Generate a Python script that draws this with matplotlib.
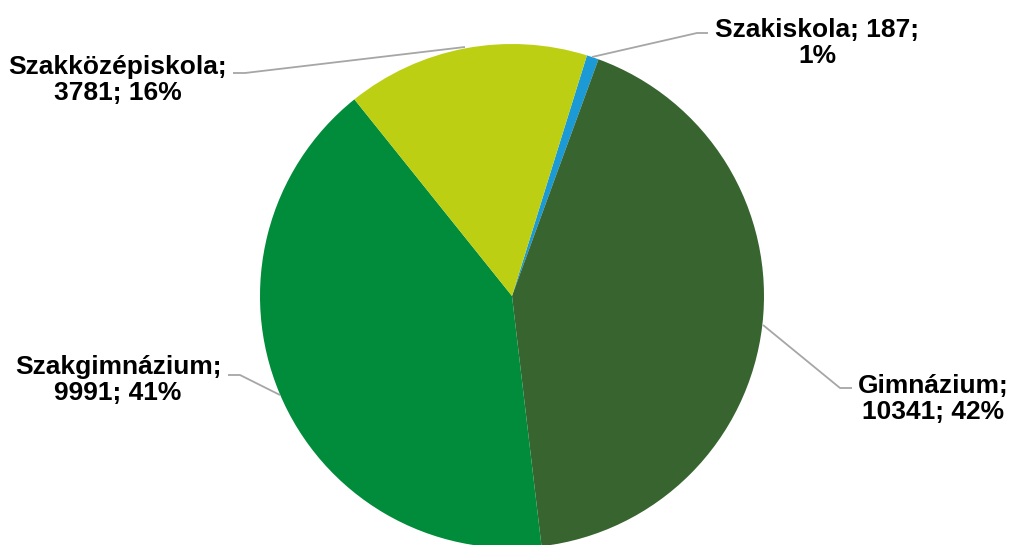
import matplotlib
matplotlib.use("Agg")
import matplotlib.pyplot as plt

# values, in drawing order (clockwise from the top)
categories = ["Szakiskola", "Gimnázium", "Szakgimnázium", "Szakközépiskola"]
counts = [187, 10341, 9991, 3781]
percents = ["1%", "42%", "41%", "16%"]
colors = ["#1b9ad6", "#37642f", "#008c3a", "#bccf12"]

W, H = 1011, 545
plt.rcParams["font.family"] = ["Liberation Sans", "DejaVu Sans"]

fig = plt.figure(figsize=(W / 100, H / 100), dpi=100)
ax = fig.add_axes([0, 0, 1, 1])


def py(y):
    # pixel row (top-down) -> data y
    return H - y


ax.pie(counts, colors=colors, startangle=72.7, counterclock=False,
       center=(512, py(296)), radius=252, frame=True,
       wedgeprops=dict(linewidth=0))
ax.set_xlim(0, W)
ax.set_ylim(0, H)
ax.set_aspect("equal")
ax.axis("off")

labels = [
    f"{categories[0]}; {counts[0]};\n{percents[0]}",
    f"{categories[1]};\n{counts[1]}; {percents[1]}",
    f"{categories[2]};\n{counts[2]}; {percents[2]}",
    f"{categories[3]};\n{counts[3]}; {percents[3]}",
]
label_pos = [(817, 43), (933, 399), (118, 380), (118, 80)]
leaders = [
    [(592, 57), (697, 33), (708, 33)],
    [(763, 325), (840, 388), (852, 388)],
    [(280, 395), (240, 375), (228, 375)],
    [(465, 47), (245, 73), (233, 73)],
]

for text, (x, y), pts in zip(labels, label_pos, leaders):
    ax.plot([p[0] for p in pts], [py(p[1]) for p in pts],
            color="#a6a6a6", lw=1.3, solid_capstyle="butt")
    ax.text(x, py(y), text, ha="center", va="center", fontsize=19,
            fontweight="bold", color="#000000", linespacing=1.12)

fig.savefig("out.png", dpi=100)
